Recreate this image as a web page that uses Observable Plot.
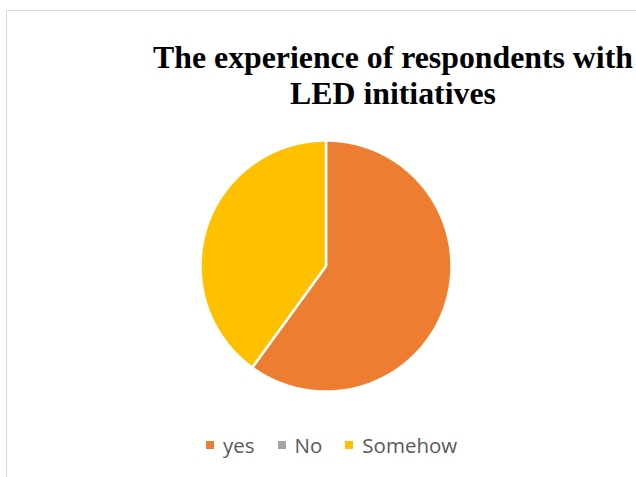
<!DOCTYPE html>
<html>
<head>
<meta charset="utf-8">
<script src="https://cdn.jsdelivr.net/npm/d3@7"></script>
<script src="https://cdn.jsdelivr.net/npm/@observablehq/plot@0.6"></script>
<style>
  html, body { margin: 0; padding: 0; background: #fff; width: 636px; height: 477px; overflow: hidden; }
  #frame { position: absolute; left: 6px; top: 10px; width: 720px; height: 520px; border: 1.5px solid #d9d9d9; box-sizing: border-box; }
  #title { position: absolute; left: 93px; top: 40px; width: 600px; text-align: center;
    font-family: "Liberation Serif", "Times New Roman", serif; font-weight: bold; font-size: 31.8px; line-height: 36px; color: #000; }
  #pie { position: absolute; left: 190px; top: 130px; }
  #legend { position: absolute; left: 206px; top: 428px; }
  .lg-swatches-wrap, .lg-swatches { font-family: "Open Sans", sans-serif !important; font-size: 20.5px !important; color: #595959 !important; }
  .lg-swatch { margin-right: 23px !important; }
  .lg-swatch > svg { margin-right: 9px !important; }
</style>
</head>
<body>
<div id="frame"></div>
<div id="title"></div>
<div id="pie"></div>
<div id="legend"></div>
<script>
const titleLines = ["The experience of respondents with", "LED initiatives"];
const labels = ["yes", "No", "Somehow"];
const values = [60, 0, 40];
const colors = ["#ED7D31", "#A5A5A5", "#FFC000"];

document.getElementById("title").innerHTML = titleLines.join("<br>");

const arcs = d3.pie().sort(null).value((d, i) => values[i])(labels);
const pts = [];
arcs.forEach(a => {
  const span = a.endAngle - a.startAngle;
  if (span <= 0) return;
  pts.push({label: a.data, x: 0, y: 0});
  const n = Math.max(2, Math.ceil(span / 0.01));
  for (let k = 0; k <= n; k++) {
    const t = a.startAngle + span * k / n;
    pts.push({label: a.data, x: Math.sin(t), y: Math.cos(t)});
  }
});

const pie = Plot.plot({
  width: 271, height: 271, margin: 10,
  x: {domain: [-1, 1], axis: null},
  y: {domain: [-1, 1], axis: null},
  color: {domain: labels, range: colors},
  marks: [
    Plot.line(pts, {x: "x", y: "y", z: "label", fill: "label", stroke: "white", strokeWidth: 2.5, strokeLinejoin: "miter", curve: "linear-closed"})
  ]
});
document.getElementById("pie").appendChild(pie);

const legend = Plot.legend({
  color: {domain: labels, range: colors},
  legend: "swatches",
  swatchSize: 8,
  className: "lg"
});
document.getElementById("legend").appendChild(legend);
</script>
</body>
</html>
